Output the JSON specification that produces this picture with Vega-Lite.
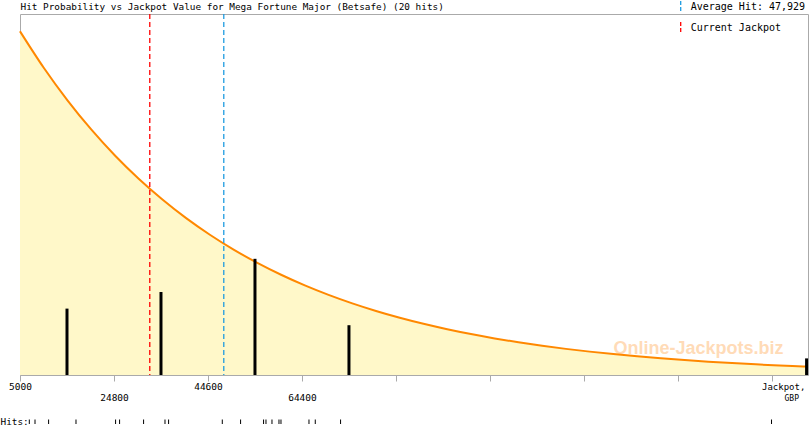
{
  "$schema": "https://vega.github.io/schema/vega-lite/v6.json",
  "padding": {"left": 0, "top": 0, "right": 0, "bottom": 0},
  "background": "white",
  "spacing": 44.5,
  "bounds": "flush",
  "resolve": {"scale": {"x": "independent"}},
  "datasets": {
    "curve": [
      {"v": 5000, "p": 1.0},
      {"v": 10000, "p": 0.8940},
      {"v": 15000, "p": 0.7993},
      {"v": 20000, "p": 0.7146},
      {"v": 25000, "p": 0.6388},
      {"v": 30000, "p": 0.5711},
      {"v": 35000, "p": 0.5106},
      {"v": 40000, "p": 0.4565},
      {"v": 45000, "p": 0.4081},
      {"v": 50000, "p": 0.3648},
      {"v": 55000, "p": 0.3262},
      {"v": 60000, "p": 0.2916},
      {"v": 65000, "p": 0.2607},
      {"v": 70000, "p": 0.2331},
      {"v": 75000, "p": 0.2084},
      {"v": 80000, "p": 0.1863},
      {"v": 85000, "p": 0.1665},
      {"v": 90000, "p": 0.1489},
      {"v": 95000, "p": 0.1331},
      {"v": 100000, "p": 0.1190},
      {"v": 105000, "p": 0.1064},
      {"v": 110000, "p": 0.0951},
      {"v": 115000, "p": 0.0850},
      {"v": 120000, "p": 0.0760},
      {"v": 125000, "p": 0.0680},
      {"v": 130000, "p": 0.0608},
      {"v": 135000, "p": 0.0543},
      {"v": 140000, "p": 0.0486},
      {"v": 145000, "p": 0.0434},
      {"v": 150000, "p": 0.0388},
      {"v": 155000, "p": 0.0347},
      {"v": 160000, "p": 0.0310},
      {"v": 165000, "p": 0.0277},
      {"v": 170000, "p": 0.0248},
      {"v": 171000, "p": 0.0242}
    ],
    "histogram": [
      {"c": 14900, "n": 4},
      {"c": 34700, "n": 5},
      {"c": 54500, "n": 7},
      {"c": 74300, "n": 3},
      {"c": 170700, "n": 1}
    ],
    "markers": [
      {"s": "Average Hit: 47,929", "v": 47929},
      {"s": "Current Jackpot", "v": 32340}
    ],
    "watermark": [
      {"label": "Online-Jackpots.biz", "v": 147930, "p": 0.0611}
    ],
    "hits": [
      {"v": 6959}, {"v": 8160}, {"v": 11024}, {"v": 16796}, {"v": 25137},
      {"v": 25980}, {"v": 31035}, {"v": 35543}, {"v": 36301}, {"v": 47613},
      {"v": 51467}, {"v": 56312}, {"v": 56818}, {"v": 58082}, {"v": 59556},
      {"v": 59978}, {"v": 65876}, {"v": 67203}, {"v": 72532}, {"v": 163316}
    ]
  },
  "vconcat": [
    {
      "width": 788,
      "height": 361,
      "layer": [
        {
          "data": {"name": "curve"},
          "mark": {"type": "area", "color": "#fff8c9", "interpolate": "monotone"},
          "encoding": {
            "x": {
              "field": "v", "type": "quantitative",
              "scale": {"domain": [5000, 171000], "nice": false, "zero": false},
              "axis": {
                "orient": "bottom",
                "values": [5000, 24800, 44600, 64400, 84200, 104000, 123800, 143600, 163400],
                "format": "d",
                "domain": false,
                "grid": false,
                "tickColor": "#aaaaaa",
                "tickSize": 6,
                "tickWidth": 1,
                "labelFont": "DejaVu Sans Mono",
                "labelFontSize": 9.5,
                "labelColor": "#000000",
                "labelPadding": 0,
                "labelFlush": false,
                "labelOverlap": false,
                "labelBaseline": "top",
                "labelLineHeight": 11.6,
                "labelExpr": "(datum.value == 24800 || datum.value == 64400) ? [' ', datum.label] : (datum.value <= 64400 ? datum.label : '')",
                "title": "Jackpot,",
                "titleX": 741.5,
                "titleY": 14,
                "titleAlign": "left",
                "titleAnchor": null,
                "titleBaseline": "alphabetic",
                "titleFont": "DejaVu Sans Mono",
                "titleFontSize": 9,
                "titleFontWeight": "normal",
                "titleColor": "#000000"
              }
            },
            "y": {
              "field": "p", "type": "quantitative",
              "scale": {"domain": [0, 1.0503], "nice": false, "zero": true},
              "axis": null
            }
          }
        },
        {
          "data": {"name": "watermark"},
          "mark": {"type": "text", "font": "Liberation Sans", "fontSize": 18, "fontWeight": "bold", "color": "#ff9933", "opacity": 0.35, "align": "center", "baseline": "alphabetic"},
          "encoding": {
            "x": {
              "field": "v", "type": "quantitative",
              "scale": {"domain": [5000, 171000], "nice": false, "zero": false},
              "axis": {
                "orient": "top",
                "domain": false, "ticks": false, "labels": false, "grid": false,
                "title": "Hit Probability vs Jackpot Value for Mega Fortune Major (Betsafe) (20 hits)",
                "titleX": 0,
                "titleY": -5,
                "titleAlign": "left",
                "titleAnchor": null,
                "titleBaseline": "alphabetic",
                "titleFont": "DejaVu Sans Mono",
                "titleFontSize": 9.4,
                "titleFontWeight": "normal",
                "titleColor": "#000000",
                "titleLimit": 800
              }
            },
            "y": {"field": "p", "type": "quantitative", "scale": {"domain": [0, 1.0503], "nice": false, "zero": true}, "axis": null},
            "text": {"field": "label"}
          }
        },
        {
          "data": {"name": "curve"},
          "mark": {"type": "line", "color": "#ff8800", "strokeWidth": 2, "interpolate": "monotone"},
          "encoding": {
            "x": {"field": "v", "type": "quantitative", "scale": {"domain": [5000, 171000], "nice": false, "zero": false}, "axis": null},
            "y": {"field": "p", "type": "quantitative", "scale": {"domain": [0, 1.0503], "nice": false, "zero": true}, "axis": null}
          }
        },
        {
          "data": {"name": "histogram"},
          "mark": {"type": "rule", "color": "#000000", "strokeWidth": 3, "strokeCap": "butt"},
          "encoding": {
            "x": {
              "field": "c", "type": "quantitative",
              "scale": {"domain": [5000, 171000], "nice": false, "zero": false},
              "axis": {
                "orient": "bottom",
                "domain": false, "ticks": false, "labels": false, "grid": false,
                "title": "GBP",
                "titleX": 764,
                "titleY": 25.3,
                "titleAlign": "left",
                "titleAnchor": null,
                "titleBaseline": "alphabetic",
                "titleFont": "DejaVu Sans Mono",
                "titleFontSize": 8,
                "titleFontWeight": "normal",
                "titleColor": "#000000"
              }
            },
            "y": {"field": "n", "type": "quantitative", "scale": {"domain": [0, 21.75], "nice": false, "zero": true}, "axis": null},
            "y2": {"datum": 0}
          }
        },
        {
          "data": {"name": "markers"},
          "mark": {"type": "rule", "strokeWidth": 1.3, "strokeDash": [5, 3]},
          "encoding": {
            "x": {"field": "v", "type": "quantitative", "scale": {"domain": [5000, 171000], "nice": false, "zero": false}, "axis": null},
            "color": {
              "field": "s", "type": "nominal",
              "scale": {"domain": ["Average Hit: 47,929", "Current Jackpot"], "range": ["#1e9be0", "#ff0000"]},
              "legend": {
                "orient": "none",
                "legendX": 653.7,
                "legendY": -14,
                "padding": 0,
                "title": null,
                "direction": "vertical",
                "rowPadding": 3,
                "symbolType": "M0,-1L0,1",
                "symbolSize": 144,
                "symbolStrokeWidth": 1.3,
                "symbolDash": [4, 2],
                "labelFont": "DejaVu Sans Mono",
                "labelFontSize": 10,
                "labelColor": "#000000",
                "labelOffset": 3,
                "labelLimit": 300
              }
            }
          }
        }
      ],
      "resolve": {"scale": {"y": "independent"}, "axis": {"x": "independent"}}
    },
    {
      "width": 788,
      "height": 4.5,
      "view": {"stroke": null},
      "data": {"name": "hits"},
      "mark": {"type": "rule", "color": "#000000", "strokeWidth": 1},
      "encoding": {
        "x": {
          "field": "v", "type": "quantitative",
          "scale": {"domain": [5000, 171000], "nice": false, "zero": false},
          "axis": {
            "orient": "bottom",
            "domain": false, "ticks": false, "labels": false, "grid": false,
            "title": "Hits:",
            "titleX": -20,
            "titleY": 0,
            "titleAlign": "left",
            "titleAnchor": null,
            "titleBaseline": "alphabetic",
            "titleFont": "DejaVu Sans Mono",
            "titleFontSize": 9.4,
            "titleFontWeight": "normal",
            "titleColor": "#000000"
          }
        }
      }
    }
  ],
  "config": {
    "view": {"stroke": "#aaaaaa", "strokeWidth": 1},
    "font": "DejaVu Sans Mono"
  }
}
